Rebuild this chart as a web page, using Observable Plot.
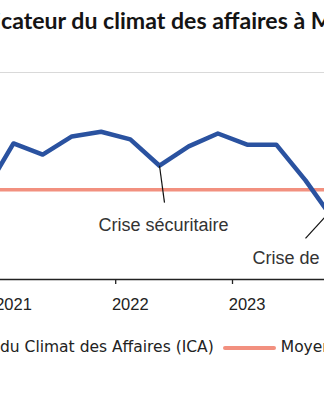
<!DOCTYPE html>
<html><head><meta charset="utf-8">
<script src="https://cdn.jsdelivr.net/npm/d3@7"></script>
<script src="https://cdn.jsdelivr.net/npm/@observablehq/plot@0.6"></script>
<style>
html,body{margin:0;padding:0;background:#fff;}
#wrap{position:relative;width:324px;height:400px;overflow:hidden;background:#fff;}
#title{position:absolute;top:0;left:0;white-space:nowrap;font-family:Lato,"DejaVu Sans",sans-serif;font-weight:700;font-size:20px;color:#141414;line-height:1.2;}
#chart{position:absolute;top:40px;left:0;width:324px;height:280px;overflow:hidden;}
#legend{position:absolute;left:0;top:0;white-space:nowrap;font-family:"DejaVu Sans",Verdana,sans-serif;font-size:15.5px;color:#222;line-height:1.2;}
.sw{display:inline-block;width:53px;height:4px;vertical-align:middle;border-radius:2px;}
</style></head>
<body><div id="wrap">
<div id="title"><span id="tpre">Indi</span><span id="tmain">cateur du climat des affaires à </span><span>Mayotte</span></div>
<div id="chart"></div>
<div id="legend"><span class="sw" style="background:#2A52A0;margin-right:5px"></span><span id="lpre">Indicateur </span><span id="lmain">du Climat des Affaires (ICA)</span><span class="sw" style="background:#F2907F;margin-left:9px;margin-right:5px"></span><span>Moyenne de longue période</span></div>
</div>
<script>
// ---- data ----
const quarters = ["2020T4","2021T1","2021T2","2021T3","2021T4","2022T1","2022T2","2022T3","2022T4","2023T1","2023T2","2023T3","2023T4"];
const quarterIndex = [-1,0,1,2,3,4,5,6,7,8,9,10,11];
const ica = [99.5,107.9,106.0,109.1,109.9,108.6,104.1,107.4,109.6,107.7,107.7,101.6,94.6];
const moyenne = 100;
const yearLabels = ["2021","2022","2023"];
const yearLabelIndex = [0,4,8];
const yearTickIndex = [-0.5,3.5,7.5];
const gridY = [120];
const yMin = 84.7;
const annotText = ["Crise sécuritaire","Crise de l'eau"];
const annotX = [5.137,8.185];
const annotY = [92.9,87.4];
const annotAnchor = ["middle","start"];
const leaderX1 = [5.0,10.0];
const leaderY1 = [104.1,91.7];
const leaderX2 = [5.171,10.79];
const leaderY2 = [97.8,96.0];

const series = quarters.map((q,k)=>({q, i: quarterIndex[k], v: ica[k]}));
const annots = annotText.map((t,k)=>({t, x: annotX[k], y: annotY[k], a: annotAnchor[k]}));
const leaders = leaderX1.map((x,k)=>({x1:x, y1:leaderY1[k], x2:leaderX2[k], y2:leaderY2[k]}));

const chart = Plot.plot({
  width:324, height:280, marginTop:32, marginBottom:41, marginLeft:0, marginRight:0,
  x:{domain:[-13/29.2, 311/29.2]},
  y:{domain:[yMin,120], axis:null},
  style:{fontFamily:"'Liberation Sans', Arial, sans-serif", background:"white", overflow:"hidden"},
  marks:[
    Plot.ruleY(gridY,{stroke:"#d9d9d9", strokeWidth:1}),
    Plot.ruleY([moyenne],{stroke:"#F2907F", strokeWidth:3.5}),
    Plot.line(series,{x:"i", y:"v", stroke:"#2A52A0", strokeWidth:4.5, strokeLinejoin:"round"}),
    Plot.link(leaders,{x1:"x1", y1:"y1", x2:"x2", y2:"y2", stroke:"#111", strokeWidth:1.2}),
    Plot.text(annots.filter(d=>d.a==="middle"),{x:"x", y:"y", text:"t", textAnchor:"middle", lineAnchor:"bottom", fontSize:18, fill:"#333"}),
    Plot.text(annots.filter(d=>d.a==="start"),{x:"x", y:"y", text:"t", textAnchor:"start", lineAnchor:"bottom", fontSize:18, fill:"#333"}),
    Plot.ruleY([yMin],{stroke:"#222", strokeWidth:1.3}),
    Plot.axisX({ticks:yearTickIndex, tickSize:5, tickFormat:()=>"", stroke:"#222", strokeWidth:1.3}),
    Plot.axisX({ticks:yearLabelIndex, tickSize:0, tickPadding:19, tickFormat:d=>yearLabels[yearLabelIndex.indexOf(d)], fontSize:16.5, fill:"#222"})
  ]
});
document.getElementById("chart").appendChild(chart);

function placeBaseline(el, baselineY){
  const probe = document.createElement("span");
  probe.style.cssText="display:inline-block;width:0;height:0;vertical-align:baseline;";
  el.appendChild(probe);
  el.style.top="0px";
  const wr = document.getElementById("wrap").getBoundingClientRect();
  const b = probe.getBoundingClientRect().top - wr.top;
  el.style.top = (baselineY - b)+"px";
  probe.remove();
}
function layout(){
  const title = document.getElementById("title");
  title.style.fontSize = "20px";
  const w = document.getElementById("tmain").getBoundingClientRect().width;
  title.style.fontSize = (20*310/w)+"px";
  const pw = document.getElementById("tpre").getBoundingClientRect().width;
  title.style.left = (1 - pw)+"px";
  placeBaseline(title, 29);
  const legend = document.getElementById("legend");
  legend.style.left = "0px";
  const lr = legend.getBoundingClientRect();
  const mr = document.getElementById("lmain").getBoundingClientRect();
  legend.style.left = (-(mr.left - lr.left))+"px";
  placeBaseline(legend, 352);
}
layout();
if (document.fonts) document.fonts.ready.then(layout);
</script>
</body></html>
